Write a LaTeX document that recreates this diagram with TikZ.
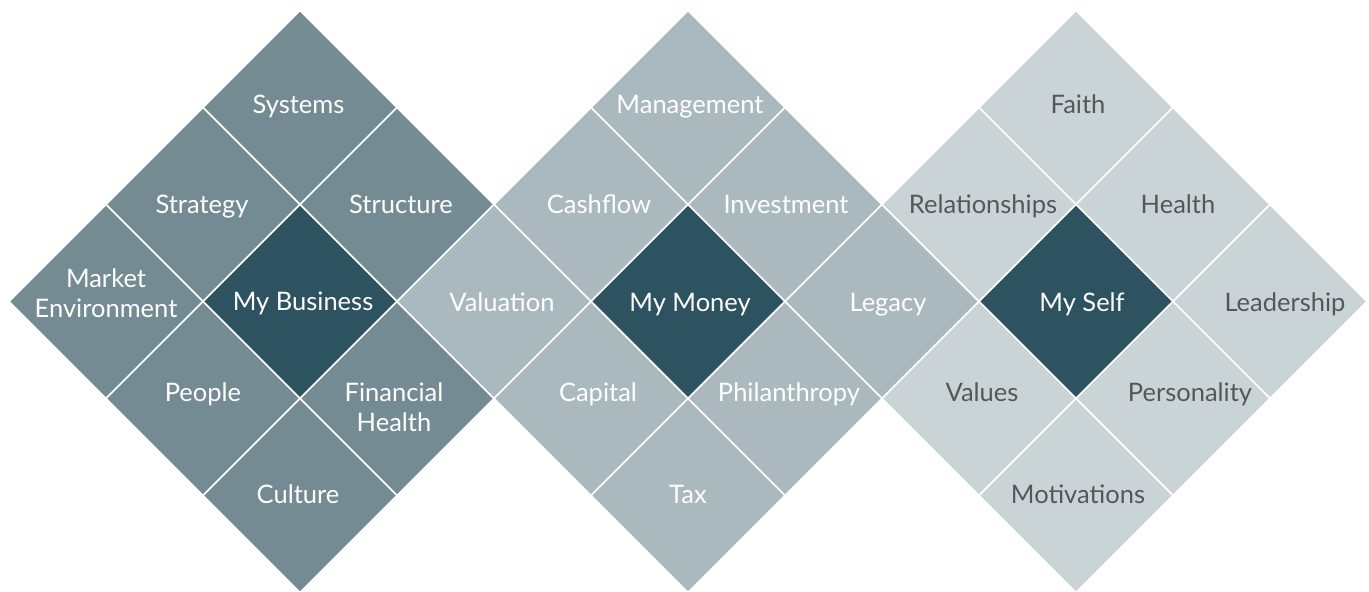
\documentclass[tikz,border=0pt]{standalone}
\usepackage{fontspec}
\setmainfont{Lato}
\usetikzlibrary{shapes.geometric}
\definecolor{corefill}{HTML}{2D5260}
\definecolor{bizfill}{HTML}{748B93}
\definecolor{monfill}{HTML}{AAB9BE}
\definecolor{selffill}{HTML}{CAD4D7}
\definecolor{selftext}{HTML}{545859}
\tikzset{
  cell/.style={diamond, shape aspect=1, minimum width=194pt, minimum height=194pt,
    inner sep=0pt, outer sep=0pt, draw=white, line width=1.6pt},
  biz/.style={cell, fill=bizfill},
  mon/.style={cell, fill=monfill},
  slf/.style={cell, fill=selffill},
  core/.style={cell, fill=corefill},
  lbl/.style={font=\fontsize{25.5}{30}\selectfont, text height=18pt, text depth=0pt,
    inner sep=0pt, align=center},
  wlbl/.style={lbl, text=white},
  glbl/.style={lbl, text=selftext}
}
\begin{document}
\begin{tikzpicture}[x=1pt,y=-1pt]
\useasboundingbox (0,0) rectangle (1369,592);

% My Business
\node[biz]  (b-top) at (300,107.5) {};
\node[biz]  (b-ul)  at (203,204.5) {};
\node[biz]  (b-ur)  at (397,204.5) {};
\node[biz]  (b-l)   at (106,301.5) {};
\node[core] (b-c)   at (300,301.5) {};
\node[biz]  (b-ll)  at (203,398.5) {};
\node[biz]  (b-lr)  at (397,398.5) {};
\node[biz]  (b-bot) at (300,495.5) {};

% My Money
\node[mon]  (m-top) at (688,107.5) {};
\node[mon]  (m-ul)  at (591,204.5) {};
\node[mon]  (m-ur)  at (785,204.5) {};
\node[mon]  (m-l)   at (494,301.5) {};
\node[core] (m-c)   at (688,301.5) {};
\node[mon]  (m-r)   at (882,301.5) {};
\node[mon]  (m-ll)  at (591,398.5) {};
\node[mon]  (m-lr)  at (785,398.5) {};
\node[mon]  (m-bot) at (688,495.5) {};

% My Self
\node[slf]  (s-top) at (1076,107.5) {};
\node[slf]  (s-ul)  at (979,204.5) {};
\node[slf]  (s-ur)  at (1173,204.5) {};
\node[core] (s-c)   at (1076,301.5) {};
\node[slf]  (s-r)   at (1270,301.5) {};
\node[slf]  (s-ll)  at (979,398.5) {};
\node[slf]  (s-lr)  at (1173,398.5) {};
\node[slf]  (s-bot) at (1076,495.5) {};

% labels
\node[wlbl] (t-sys)  at (298.5,104.5) {Systems};
\node[wlbl] (t-str)  at (202,204) {Strategy};
\node[wlbl] (t-stc)  at (401,204) {Structure};
\node[wlbl] (t-mkt)  at (106,308.5) {Market\\Environment};
\node[wlbl] (t-biz)  at (303,301.5) {My Business};
\node[wlbl] (t-ppl)  at (203,392) {People};
\node[wlbl] (t-fin)  at (394,422) {Financial\\Health};
\node[wlbl] (t-cul)  at (298,494) {Culture};

\node[wlbl] (t-mgt)  at (690,104.5) {Management};
\node[wlbl] (t-csh)  at (599,204) {Cashflow};
\node[wlbl] (t-inv)  at (786,204) {Investment};
\node[wlbl] (t-val)  at (502,302) {Valuation};
\node[wlbl] (t-mon)  at (690,302) {My Money};
\node[wlbl] (t-leg)  at (888,302) {Legacy};
\node[wlbl] (t-cap)  at (598,392) {Capital};
\node[wlbl] (t-phi)  at (789,392) {Philanthropy};
\node[wlbl] (t-tax)  at (688,494) {Tax};

\node[glbl] (t-fth)  at (1078,104.5) {Faith};
\node[glbl] (t-rel)  at (983,204) {Relationships};
\node[glbl] (t-hlt)  at (1178,204) {Health};
\node[wlbl] (t-slf)  at (1082,302) {My Self};
\node[glbl] (t-ldr)  at (1285,302) {Leadership};
\node[glbl] (t-vls)  at (982,392) {Values};
\node[glbl] (t-prs)  at (1190,392) {Personality};
\node[glbl] (t-mot)  at (1078,494) {Motivations};
\end{tikzpicture}
\end{document}
